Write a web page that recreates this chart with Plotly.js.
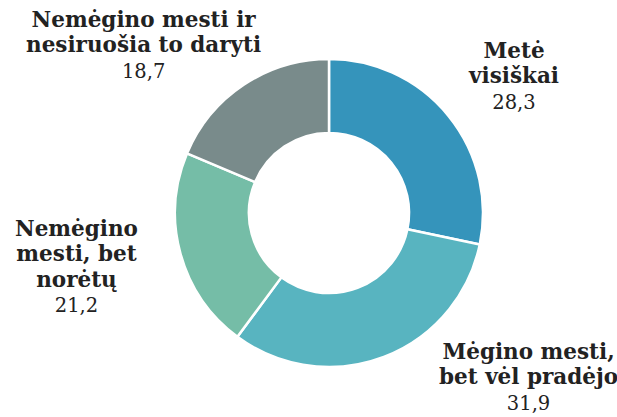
<!DOCTYPE html>
<html>
<head>
<meta charset="utf-8">
<script src="https://cdn.plot.ly/plotly-3.0.1.min.js"></script>
<style>html,body{margin:0;padding:0;background:#fff;}#chart{width:617px;height:417px;}</style>
</head>
<body>
<div id="chart"></div>
<script>
const categories = ["Metė visiškai", "Mėgino mesti, bet vėl pradėjo", "Nemėgino mesti, bet norėtų", "Nemėgino mesti ir nesiruošia to daryti"];
const values = [28.3, 31.9, 21.2, 18.7];
const labelLines = [
  ["Metė", "visiškai"],
  ["Mėgino mesti,", "bet vėl pradėjo"],
  ["Nemėgino", "mesti, bet", "norėtų"],
  ["Nemėgino mesti ir", "nesiruošia to daryti"]
];
const colors = ["#3594bb", "#58b4c0", "#75bda7", "#798b8b"];

const W = 617, H = 417;
// label anchor positions (pixel centre x, top y)
const labelPos = [[513, 36], [528, 337], [76, 214], [143, 5]];

const fmt = v => v.toFixed(1).replace(".", ",");

const annotations = categories.map((c, i) => ({
  xref: "paper", yref: "paper",
  x: labelPos[i][0] / W, y: 1 - labelPos[i][1] / H,
  xanchor: "center", yanchor: "top", align: "center",
  showarrow: false,
  text: labelLines[i].map(l => "<b><span style=\"font-size:21.5px\">" + l + "</span></b>").join("<br>") + "<br>" + fmt(values[i]),
  font: {family: "DejaVu Serif", size: 19.5, color: "#222222"}
}));

const trace = {
  type: "pie",
  labels: categories,
  values: values,
  hole: 0.52,
  sort: false,
  direction: "clockwise",
  rotation: 0,
  textinfo: "none",
  hoverinfo: "label+value",
  marker: {colors: colors, line: {color: "#ffffff", width: 2.5}},
  domain: {x: [175 / W, 483 / W], y: [1 - 367 / H, 1 - 59 / H]}
};

Plotly.newPlot("chart", [trace], {
  width: W, height: H,
  margin: {l: 0, r: 0, t: 0, b: 0},
  showlegend: false,
  paper_bgcolor: "#ffffff",
  annotations: annotations,
  font: {family: "DejaVu Serif"}
}, {displayModeBar: false, staticPlot: true});
</script>
</body>
</html>
